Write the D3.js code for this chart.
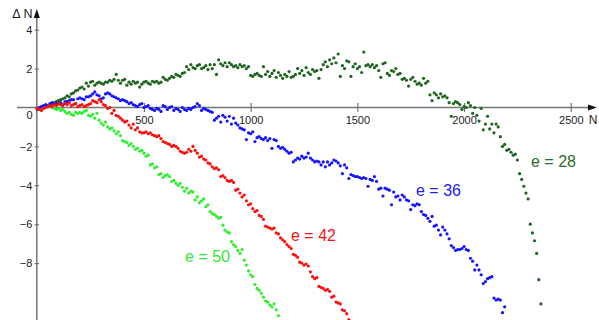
<!DOCTYPE html>
<html>
<head>
<meta charset="utf-8">
<script src="https://cdn.jsdelivr.net/npm/d3@7/dist/d3.min.js"></script>
<style>
  html, body { margin: 0; padding: 0; background: #fff; }
  svg { display: block; font-family: "Liberation Sans", Arial, sans-serif; }
</style>
</head>
<body>
<svg id="chart" width="599" height="320"></svg>
<script>
// Deviation ΔN against N, sampled every STEP units of N, for four values of e.
const STEP = 10;

const dev28 = [
  -0.1, -0.05, 0.05, 0.0, 0.1, 0.05, 0.15, 0.2, 0.25, 0.3,
  0.35, 0.4, 0.45, 0.5, 0.6, 0.55, 0.7, 0.75, 0.85, 0.9,
  1.0, 1.05, 0.95, 1.25, 1.1, 1.3, 1.35, 1.15, 1.25, 1.3,
  1.25, 1.2, 1.3, 1.3, 1.4, 1.35, 1.45, 1.7, 1.4, 1.25,
  1.4, 1.45, 1.15, 1.3, 1.2, 1.35, 1.25, 1.3, 1.05, 1.2,
  1.3, 1.35, 1.25, 1.2, 1.35, 1.3, 1.35, 1.25, 1.3, 1.55,
  1.45, 1.4, 1.5, 1.6, 1.55, 1.7, 1.65, 1.6, 1.75, 1.8,
  2.1, 1.95, 2.2, 2.05, 2.0, 2.15, 2.2, 2.0, 2.05, 2.15,
  1.95, 2.2, 2.0, 2.2, 1.7, 2.45, 2.25, 2.15, 2.3, 2.1,
  2.3, 2.2, 2.1, 2.15, 2.05, 2.2, 2.1, 2.15, 2.0, 2.1,
  1.65, 1.6, 1.7, 1.75, 1.65, 1.6, 2.1, 1.7, 1.85, 1.6,
  1.75, 1.9, 1.55, 1.8, 1.65, 1.5, 1.7, 1.6, 1.85, 1.55,
  1.6, 1.7, 2.0, 1.75, 1.9, 1.65, 2.05, 1.8, 1.7, 1.95,
  1.85, 1.9, 1.5, 1.95, 2.2, 2.35, 2.1, 2.45, 2.25, 2.55,
  2.3, 2.75, 1.6, 2.15, 2.0, 2.4, 2.35, 1.6, 2.1, 2.25,
  2.0, 2.1, 1.8, 2.85, 2.15, 2.2, 2.1, 2.2, 2.05, 2.15,
  1.9, 1.55, 2.25, 2.3, 1.75, 1.65, 1.9, 1.85, 2.0, 1.7,
  1.75, 1.45, 1.5, 1.4, 1.1, 1.45, 1.55, 1.35, 1.2, 1.25,
  1.15, 1.5, 1.25, 1.35, 0.65, 0.35, 0.75, 0.65, 0.5, 0.7,
  0.55, 0.6, 0.5, 0.25, -0.45, 0.2, 0.3, 0.25, 0.15, -0.1,
  0.05, 0.0, 0.25, 0.1, -0.3, 0.0, -0.4, -0.7, -0.05, -1.15,
  -0.85, -0.45, -1.1, -0.85, -1.3, -0.85, -1.0, -1.5, -2.0, -1.9,
  -2.2, -2.15, -2.3, -2.45, -2.4, -2.7, -3.4, -3.7, -4.05, -4.4,
  -4.7, -6.0, -6.45, -6.85, -7.5, -8.85, -10.1
];

const dev36 = [
  -0.05, 0.0, 0.05, 0.1, 0.15, 0.1, 0.2, 0.25, 0.15, 0.2,
  0.2, 0.25, 0.15, 0.3, 0.3, 0.35, 0.4, 0.4, 0.2, 0.45,
  0.5, 0.45, 0.4, 0.55, 0.55, 0.6, 0.7, 0.8, 0.65, 0.6,
  0.45, 0.5, 0.7, 0.75, 0.7, 0.6, 0.55, 0.5, 0.45, 0.35,
  0.4, 0.35, 0.3, 0.2, 0.25, 0.15, 0.1, 0.05, 0.15, 0.2,
  0.0, 0.05, 0.1, -0.05, -0.1, -0.15, -0.05, -0.1, -0.2, 0.1,
  0.05, -0.1, 0.0, 0.05, -0.15, -0.05, -0.1, -0.2, 0.0, -0.1,
  -0.15, -0.05, -0.1, 0.0, 0.05, 0.2, 0.1, -0.15, -0.05, -0.1,
  -0.15, -0.2, -0.25, -0.65, -0.55, -0.45, -0.75, -0.4, -0.5, -0.7,
  -0.45, -0.85, -0.55, -0.8, -0.9, -1.05, -1.1, -1.15, -1.65, -1.3,
  -1.35, -1.25, -1.75, -1.55, -1.5, -1.6, -1.65, -1.55, -1.7, -1.6,
  -2.1, -1.65, -1.7, -2.0, -2.1, -2.05, -2.15, -2.25, -2.35, -2.3,
  -2.8, -2.7, -2.6, -2.65, -2.5, -2.6, -2.55, -2.35, -2.6, -2.7,
  -2.8, -2.75, -2.8, -2.95, -2.8, -3.05, -2.8, -2.95, -2.85, -2.7,
  -2.75, -2.85, -3.0, -3.4, -2.95, -3.1, -3.65, -3.45, -3.5, -3.55,
  -3.55, -3.6, -3.65, -3.6, -3.65, -4.05, -3.7, -3.75, -3.55, -3.8,
  -4.2, -4.15, -4.55, -4.15, -4.2, -4.25, -5.0, -4.35, -4.6, -4.55,
  -4.75, -4.5, -4.6, -4.75, -4.8, -5.25, -5.0, -5.05, -4.95, -5.0,
  -5.35, -5.5, -5.55, -5.7, -5.85, -5.6, -6.1, -6.05, -6.3, -6.55,
  -6.15, -6.3, -6.5, -6.75, -7.1, -7.2, -7.35, -7.3, -7.3, -7.25,
  -7.15, -7.3, -7.35, -7.75, -7.9, -8.35, -8.1, -8.35, -8.6, -9.05,
  -8.95, -8.8, -8.75, -8.7, -9.8, -9.9, -9.85, -9.9, -10.55, -10.25
];

const dev42 = [
  -0.05, -0.1, -0.15, -0.05, 0.0, 0.05, 0.1, 0.05, 0.15, 0.1,
  0.2, 0.15, 0.1, 0.2, 0.15, 0.25, 0.1, 0.15, 0.2, 0.05,
  0.1, 0.15, 0.05, 0.1, 0.15, 0.2, 0.35, 0.3, 0.25, 0.4,
  0.3, 0.15, 0.1, -0.05, 0.0, -0.3, -0.15, -0.4, -0.45, -0.55,
  -0.65, -0.75, -0.7, -0.9, -1.05, -0.85, -1.15, -1.05, -1.25, -1.3,
  -1.3, -1.25, -1.35, -1.3, -1.4, -1.45, -1.5, -1.45, -1.6, -1.75,
  -1.8, -1.85, -1.9, -2.0, -1.95, -2.0, -2.1, -2.25, -2.3, -2.35,
  -2.3, -2.15, -2.25, -2.0, -2.2, -2.35, -2.55, -2.5, -2.65, -2.7,
  -2.85, -2.9, -3.05, -3.15, -3.1, -3.2, -3.55, -3.5, -3.6, -3.75,
  -3.8, -3.75, -3.85, -4.25, -4.2, -4.4, -4.6, -4.5, -4.8, -5.0,
  -4.95, -5.2, -5.35, -5.3, -5.55, -5.6, -5.75, -6.1, -6.15, -6.2,
  -6.25, -6.2, -6.45, -6.5, -6.7, -6.8, -6.9, -7.05, -7.15, -7.25,
  -7.55, -7.6, -7.7, -7.95, -8.0, -8.1, -8.05, -8.15, -8.45, -8.7,
  -8.8, -8.75, -9.2, -9.25, -9.3, -9.4, -9.35, -9.45, -9.75, -9.7,
  -10.0, -10.05, -10.1, -10.4, -10.45, -10.6, -10.9
];

const dev50 = [
  -0.05, 0.0, 0.05, 0.0, 0.1, 0.05, 0.1, 0.0, -0.05, -0.1,
  -0.05, -0.15, -0.1, -0.2, -0.3, -0.25, -0.35, -0.4, -0.25, -0.3,
  -0.25, -0.3, -0.2, -0.15, -0.4, -0.45, -0.35, -0.55, -0.3, -0.65,
  -0.8, -0.9, -0.75, -1.0, -1.1, -1.05, -1.2, -1.35, -1.25, -1.45,
  -1.7, -1.75, -1.8, -1.95, -1.85, -2.0, -2.15, -2.1, -2.25, -2.2,
  -2.35, -2.5, -2.45, -2.95, -2.9, -3.1, -3.05, -3.45, -3.4, -3.6,
  -3.5, -3.45, -3.55, -3.8, -3.75, -3.9, -4.0, -3.9, -4.1, -4.3,
  -4.15, -4.4, -4.3, -4.35, -4.75, -4.6, -4.9, -4.8, -4.7, -5.1,
  -5.0, -5.35, -5.45, -5.5, -5.6, -5.7, -5.65, -6.05, -6.3, -6.4,
  -6.45, -6.9, -7.05, -7.15, -7.35, -7.5, -7.3, -7.85, -8.1, -8.4,
  -8.6, -8.7, -9.1, -9.3, -9.4, -9.55, -9.75, -9.95, -10.0, -10.15,
  -10.25, -10.1, -10.4, -10.7
];

const xTicks = [500, 1000, 1500, 2000, 2500];
const yTicks = [4, 2, -2, -4, -6, -8];

const series = [
  { name: "e = 28", values: dev28, dot: "#1f641f", text: "#2b6b2b", label: [531, 167] },
  { name: "e = 50", values: dev50, dot: "#2ff02f", text: "#33e833", label: [185, 262] },
  { name: "e = 36", values: dev36, dot: "#1414ff", text: "#2020f0", label: [416, 196] },
  { name: "e = 42", values: dev42, dot: "#ff0d0d", text: "#f01414", label: [291, 241] }
];

const svg = d3.select("#chart");
const W = 599, H = 320;

const x = d3.scaleLinear().domain([0, 2500]).range([37.2, 570.8]);
const y = d3.scaleLinear().domain([-8, 4]).range([263.1, 29.7]);

const axisColor = "#767676";
const x0 = 36.8;          // position of the vertical axis
const y0 = y(0);          // position of the horizontal axis

// horizontal axis with ticks
const gx = svg.append("g").attr("transform", `translate(0,${y0})`)
  .call(d3.axisBottom(x).tickValues(xTicks).tickSize(9).tickSizeOuter(0).tickFormat(d3.format("d")));
gx.select(".domain").remove();
gx.selectAll(".tick line").attr("y1", -4.5).attr("y2", 4.5).attr("stroke", axisColor).attr("stroke-width", 1.2);
gx.selectAll(".tick text").attr("y", 8.5).attr("dy", "0.71em")
  .attr("fill", "#222").style("font-size", "11px").style("font-family", "'Liberation Sans', Arial, sans-serif");

// vertical axis with ticks
const gy = svg.append("g").attr("transform", `translate(${x0},0)`)
  .call(d3.axisLeft(y).tickValues(yTicks).tickSize(5).tickSizeOuter(0).tickFormat(d3.format("d")));
gy.select(".domain").remove();
gy.selectAll(".tick line").attr("x1", -2.2).attr("x2", 2.2).attr("stroke", axisColor).attr("stroke-width", 1.2);
gy.selectAll(".tick text").attr("x", -4.5).attr("dy", "0.34em")
  .attr("fill", "#222").style("font-size", "11px").style("font-family", "'Liberation Sans', Arial, sans-serif");

// axis lines
svg.append("line").attr("x1", 17).attr("x2", 590).attr("y1", y0).attr("y2", y0)
  .attr("stroke", axisColor).attr("stroke-width", 1.5);
svg.append("line").attr("x1", x0).attr("x2", x0).attr("y1", 15).attr("y2", H)
  .attr("stroke", axisColor).attr("stroke-width", 1.5);

// arrowheads
svg.append("path")
  .attr("d", `M${597},${y0} L${588},${y0 - 3} L${588},${y0 + 3} Z`)
  .attr("fill", "#111");
svg.append("path")
  .attr("d", `M${x0},${9} L${x0 - 3},${18} L${x0 + 3},${18} Z`)
  .attr("fill", "#111");

// axis titles and origin label
svg.append("text").attr("x", 593).attr("y", 124).attr("text-anchor", "middle")
  .attr("fill", "#222").style("font-size", "12px").text("N");
svg.append("text").attr("x", 32.5).attr("y", 17.5).attr("text-anchor", "end")
  .attr("fill", "#222").style("font-size", "12.5px").text("Δ N");
svg.append("text").attr("x", 32.5).attr("y", 118.5).attr("text-anchor", "end")
  .attr("fill", "#222").style("font-size", "11px").text("0");

// scatter points
const plot = svg.append("g");
series.forEach(s => {
  plot.append("g").selectAll("circle")
    .data(s.values)
    .join("circle")
    .attr("cx", (d, i) => x(i * STEP))
    .attr("cy", d => y(d))
    .attr("r", 1.6)
    .attr("fill", s.dot);
});

// series labels
series.forEach(s => {
  svg.append("text")
    .attr("x", s.label[0]).attr("y", s.label[1])
    .attr("fill", s.text)
    .style("font-size", "16px")
    .text(s.name);
});
</script>
</body>
</html>
